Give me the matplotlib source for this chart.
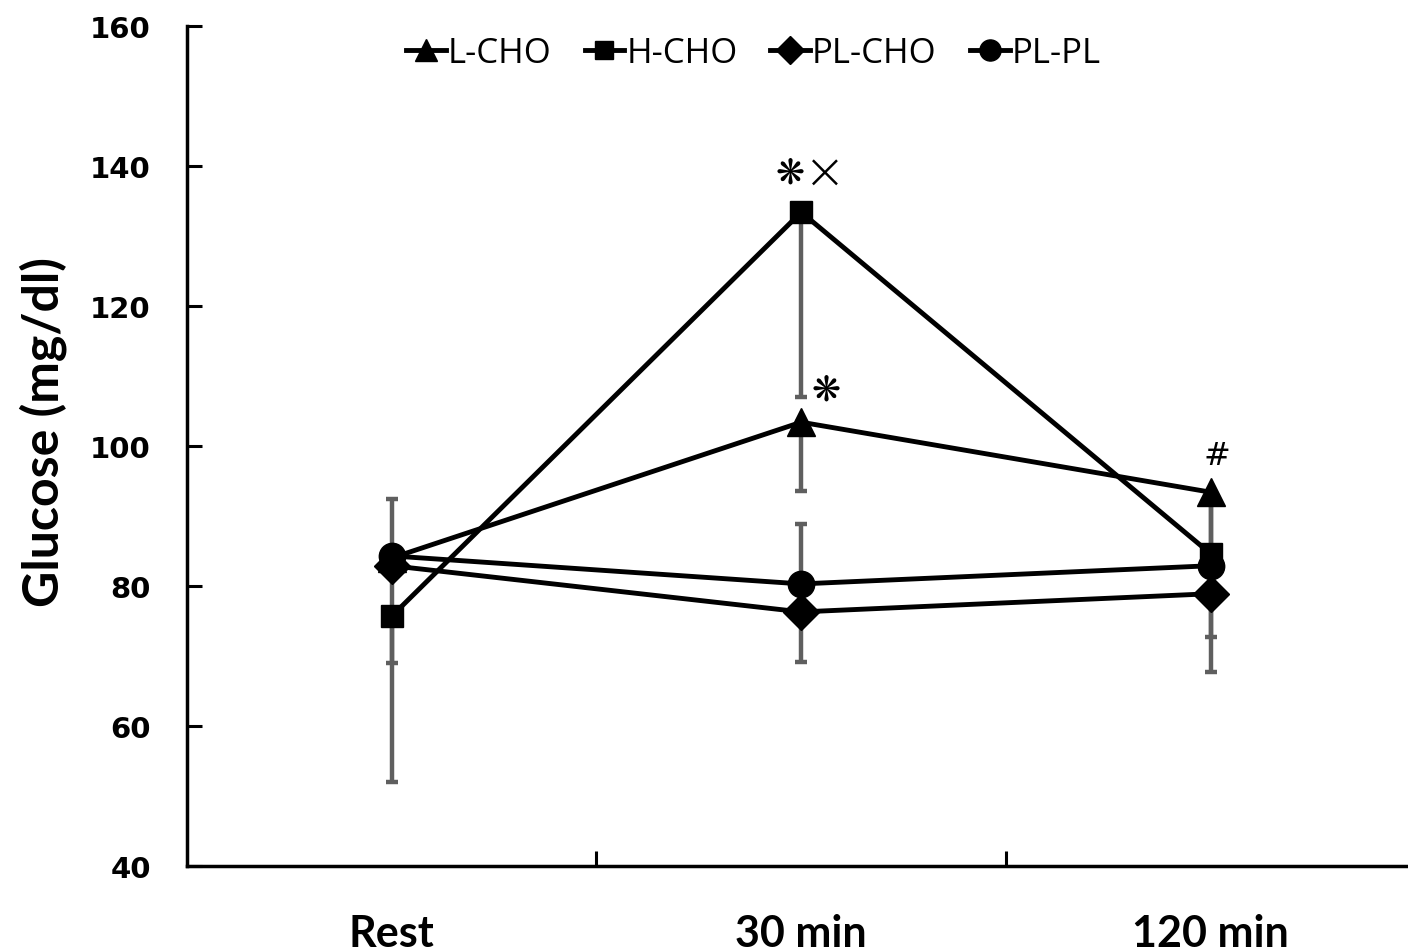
import numpy as np
import matplotlib
matplotlib.use("Agg")
import matplotlib.pyplot as plt

# time points and group means
times = ["Rest", "30 min", "120 min"]
l_cho = [84.0, 103.4, 93.4]
h_cho = [75.7, 133.4, 84.6]
pl_cho = [82.9, 76.3, 78.9]
pl_pl = [84.3, 80.3, 82.9]

# one-sided SD bars (lower, upper)
l_cho_err = [[0, 9.8, 9.0], [0, 0, 0]]
h_cho_err = [[23.7, 26.4, 0], [0, 0, 8.5]]
pl_cho_err = [[13.9, 7.2, 11.2], [0, 0, 0]]
pl_pl_err = [[0, 0, 10.2], [8.1, 8.6, 0]]

labels = ["L-CHO", "H-CHO", "PL-CHO", "PL-PL"]
means = [l_cho, h_cho, pl_cho, pl_pl]
errs = [l_cho_err, h_cho_err, pl_cho_err, pl_pl_err]
markers = ["^", "s", "D", "o"]
msizes = [20, 16.5, 18, 19]

x = np.arange(len(times)) + 0.5

fig = plt.figure(figsize=(14.08, 9.53), dpi=100)
ax = fig.add_axes([0.1328, 0.0902, 0.8725, 0.8815])

for m, e in zip(means, errs):
    ax.errorbar(x, m, yerr=e, fmt="none", ecolor="#5f5f5f", elinewidth=3.2,
                capsize=4.5, capthick=3.2, zorder=2)

for m, lab, mk, ms in zip(means, labels, markers, msizes):
    ax.plot(x, m, color="black", lw=3.5, marker=mk, ms=ms, label=lab,
            zorder=3)

# significance marks
ax.text(1.4725, 139.1, "\u274b", ha="center", va="center", fontsize=25,
        family=["DejaVu Sans"])
ax.text(1.558, 139.1, "\u00d7", ha="center", va="center", fontsize=36,
        family=["DejaVu Sans"], fontweight="light")
ax.text(1.56, 108.0, "\u274b", ha="center", va="center",
        fontsize=25, family=["DejaVu Sans"])
ax.text(2.515, 98.6, "#", ha="center", va="center", fontsize=23,
        family=["DejaVu Sans"])

ax.set_xlim(0, 3)
ax.set_ylim(40, 160)
ax.set_yticks(range(40, 161, 20))
ax.set_xticks([1, 2])
ax.set_xticklabels([])
ax.set_xticks(x, minor=True)
ax.set_xticklabels(times, minor=True, fontsize=31, fontweight="bold",
                   family="Lato")
ax.tick_params(axis="x", which="minor", length=0, pad=34)
ax.tick_params(axis="both", which="major", direction="in", length=11,
               width=2.2)
for lab in ax.get_yticklabels():
    lab.set_fontsize(21)
    lab.set_fontweight("bold")
ax.tick_params(axis="y", pad=26)

ax.set_ylabel("Glucose (mg/dl)", fontsize=36, fontweight="bold",
              family="Lato")
ax.yaxis.set_label_coords(-0.098, 0.518)

for s in ["top", "right"]:
    ax.spines[s].set_visible(False)
for s in ["left", "bottom"]:
    ax.spines[s].set_linewidth(2.5)

leg = ax.legend(loc="upper center", bbox_to_anchor=(0.461, 1.025), ncol=4,
                frameon=False, handlelength=1.15, handletextpad=0.05,
                columnspacing=0.95, markerscale=0.8,
                prop={"family": "Open Sans", "size": 25})

fig.savefig("out.png", dpi=100)
